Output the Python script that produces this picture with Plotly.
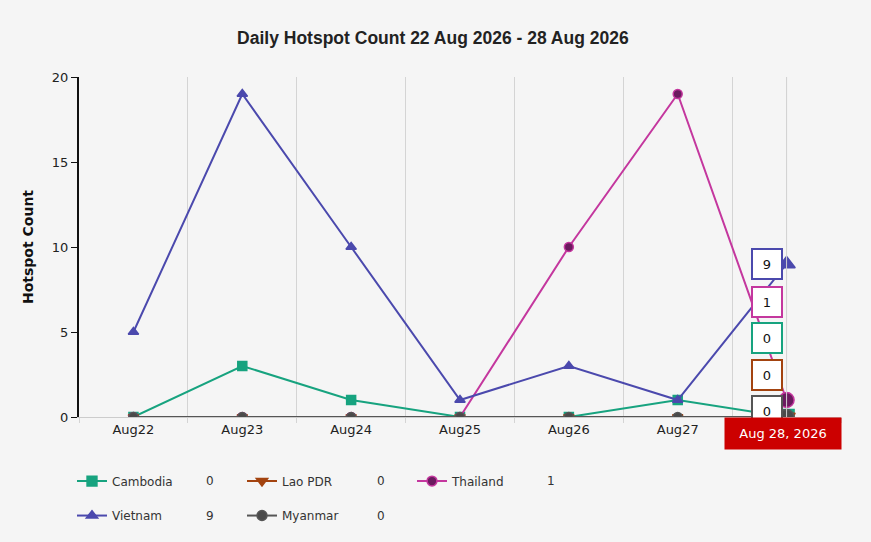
import plotly.graph_objects as go

# dados do grafico
dias = ["Aug22", "Aug23", "Aug24", "Aug25", "Aug26", "Aug27", "Aug28"]
data_cursor = "Aug 28, 2026"
cambodia = [0, 3, 1, 0, 0, 1, 0]
lao = [0, 0, 0, 0, 0, 0, 0]
thailand = [0, 0, 0, 0, 10, 19, 1]
vietnam = [5, 19, 10, 1, 3, 1, 9]
myanmar = [0, 0, 0, 0, 0, 0, 0]

L, R, T, B = 79, 30, 77, 120
W, H = 871, 542
pw, ph = W - L - R, H - T - B
FONTE = "DejaVu Sans, Verdana, sans-serif"

series = [
    # nome, valores, cor linha, simbolo, cor marcador, legenda, linha, coluna
    ("Cambodia", cambodia, "#17a37f", "square", "#17a37f", "legend", 0, 0),
    ("Lao PDR", lao, "#a3430f", "triangle-down", "#a3430f", "legend2", 0, 1),
    ("Thailand", thailand, "#c4379e", "circle", "#6b1a5f", "legend3", 0, 2),
    ("Vietnam", vietnam, "#4b49ad", "triangle-up", "#4b49ad", "legend4", 1, 0),
    ("Myanmar", myanmar, "#555555", "circle", "#4a4a4a", "legend5", 1, 1),
]

col_simbolo = [72, 242, 412]
col_valor = [210, 381, 551]
lin_y = [487, 522]

fig = go.Figure()
layout_legendas = {}
anotacoes = []

for nome, valores, cor, simb, cor_m, leg, lin, col in series:
    tamanhos = [9] * (len(valores) - 1) + [15]
    fig.add_trace(go.Scatter(
        x=dias, y=valores, name=nome, mode="lines+markers",
        line=dict(color=cor, width=2),
        marker=dict(symbol=simb, size=tamanhos, color=cor_m, opacity=1,
                    line=dict(color=cor, width=1.5)),
        legend=leg,
    ))
    layout_legendas[leg] = dict(
        x=(col_simbolo[col] - L) / pw, y=(T + ph - lin_y[lin]) / ph,
        xanchor="left", yanchor="middle", bgcolor="rgba(0,0,0,0)",
        font=dict(family=FONTE, size=12, color="#333333"),
        itemwidth=30,
    )
    anotacoes.append(dict(
        x=(col_valor[col] - L) / pw, y=(T + ph - lin_y[lin]) / ph,
        xref="paper", yref="paper", xanchor="center", yanchor="middle",
        text=str(valores[-1]), showarrow=False,
        font=dict(family=FONTE, size=12, color="#333333"),
    ))

# balões do cursor no ultimo dia, empilhados para não sobrepor
px_unid = ph / 20
passo = 37 / px_unid
ordem = sorted(range(len(series)), key=lambda i: (series[i][1][-1], -i))
pos_ant = None
for i in ordem:
    nome, valores, cor = series[i][0], series[i][1], series[i][2]
    yv = valores[-1]
    base = 6 / px_unid
    pos = max(yv, base) if pos_ant is None else max(yv, pos_ant + passo)
    pos_ant = pos
    anotacoes.append(dict(
        x=dias[-1], y=pos, xref="x", yref="y", text=str(yv), showarrow=False,
        xshift=-20, width=22, height=22, borderpad=3,
        bgcolor="white", bordercolor=cor, borderwidth=2,
        font=dict(family=FONTE, size=13, color="#111111"),
    ))

anotacoes.append(dict(
    x=dias[-1], y=0, xref="x", yref="y", yanchor="top", text=data_cursor,
    showarrow=False, bgcolor="#cc0000", borderpad=8, width=100, xshift=-4,
    font=dict(family=FONTE, size=13, color="white"),
))

fig.add_vline(x=dias[-1], line=dict(color="#d0d0d0", width=1))

fig.update_layout(
    width=W, height=H,
    margin=dict(l=L, r=R, t=T, b=B),
    paper_bgcolor="#f5f5f5", plot_bgcolor="#f5f5f5",
    title=dict(text="<b>Daily Hotspot Count 22 Aug 2026 - 28 Aug 2026</b>",
               x=0.497, xanchor="center", y=1 - 38 / H, yanchor="middle",
               font=dict(family="Liberation Sans, Arial, sans-serif", size=17.5, color="#222222")),
    showlegend=True,
    annotations=anotacoes,
    **layout_legendas,
)

fig.update_xaxes(
    type="category", range=[-0.5, len(dias) - 0.5],
    tickson="boundaries", showgrid=True, gridcolor="#d4d4d4", gridwidth=1,
    ticks="outside", ticklen=5, tickcolor="#d4d4d4",
    showline=True, linecolor="#cccccc", linewidth=1,
    tickfont=dict(family=FONTE, size=13, color="#222222"),
    zeroline=False,
)
fig.update_yaxes(
    range=[0, 20], dtick=5, showgrid=False, zeroline=False,
    showline=True, linecolor="#111111", linewidth=2,
    ticks="outside", ticklen=6, tickcolor="#111111",
    tickfont=dict(family=FONTE, size=13, color="#222222"),
    title=dict(text="<b>Hotspot Count</b>", standoff=15,
               font=dict(family=FONTE, size=14, color="#111111")),
)

fig.write_html("out.html", config={"displayModeBar": False},
               post_script="document.body.style.margin='0';")
